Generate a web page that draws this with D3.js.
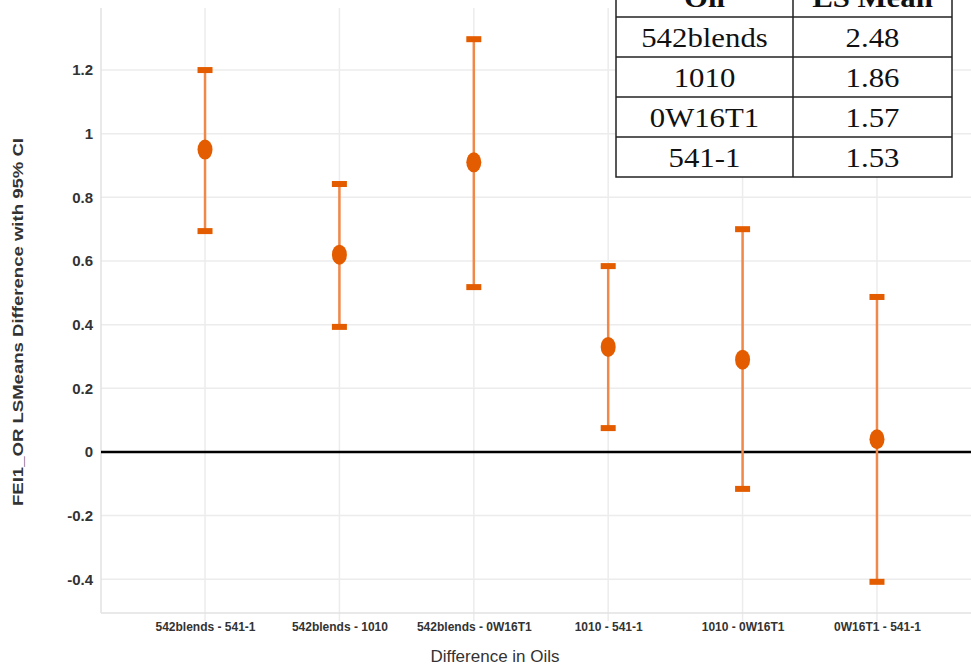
<!DOCTYPE html>
<html>
<head>
<meta charset="utf-8">
<script src="https://cdn.jsdelivr.net/npm/d3@7"></script>
<style>
  body { margin: 0; background: #fff; }
  svg { display: block; }
</style>
</head>
<body>
<script>
// comparisons and their LS mean differences with 95% CI
var pairs = ["542blends - 541-1", "542blends - 1010", "542blends - 0W16T1", "1010 - 541-1", "1010 - 0W16T1", "0W16T1 - 541-1"];
var diffs = [0.95, 0.62, 0.91, 0.33, 0.29, 0.04];
var lower = [0.694, 0.393, 0.518, 0.075, -0.116, -0.408];
var upper = [1.20, 0.842, 1.297, 0.584, 0.70, 0.487];
var yTicks = [-0.4, -0.2, 0, 0.2, 0.4, 0.6, 0.8, 1, 1.2];

// inset table
var tableOils = ["542blends", "1010", "0W16T1", "541-1"];
var tableMeans = ["2.48", "1.86", "1.57", "1.53"];

var width = 971, height = 668;
var margin = {left: 101, top: 8, bottom: 55};

var svg = d3.select("body").append("svg")
  .attr("width", width)
  .attr("height", height);

var x = d3.scalePoint()
  .domain(pairs)
  .range([margin.left, 981])
  .padding(0.774);

var y = d3.scaleLinear()
  .domain([-0.506, 1.395])
  .range([height - margin.bottom, margin.top]);

var orange = "#e35d00";
var lineOrange = "#f0884a";
var sans = "'Liberation Sans', Arial, sans-serif";

// grid
var grid = svg.append("g");
grid.selectAll(".hg").data(yTicks).enter().append("line")
  .attr("x1", margin.left).attr("x2", width)
  .attr("y1", function(d) { return y(d); })
  .attr("y2", function(d) { return y(d); })
  .style("stroke", "#ececec").style("stroke-width", 1.5);
grid.selectAll(".vg").data(pairs).enter().append("line")
  .attr("y1", margin.top).attr("y2", height - margin.bottom + 8)
  .attr("x1", function(d) { return x(d); })
  .attr("x2", function(d) { return x(d); })
  .style("stroke", "#ececec").style("stroke-width", 1.5);

// plot frame (left and bottom)
svg.append("line")
  .attr("x1", margin.left).attr("x2", margin.left)
  .attr("y1", margin.top).attr("y2", height - margin.bottom)
  .style("stroke", "#e2e2e2").style("stroke-width", 1.5);
svg.append("line")
  .attr("x1", margin.left).attr("x2", width)
  .attr("y1", height - margin.bottom).attr("y2", height - margin.bottom)
  .style("stroke", "#e2e2e2").style("stroke-width", 1.5);

// zero reference line
svg.append("line")
  .attr("x1", margin.left).attr("x2", width)
  .attr("y1", y(0)).attr("y2", y(0))
  .style("stroke", "#000").style("stroke-width", 2.5);

// y axis
var yAxis = svg.append("g")
  .attr("transform", "translate(" + margin.left + ",0)")
  .call(d3.axisLeft(y).tickValues(yTicks).tickSize(0).tickPadding(8)
    .tickFormat(function(d) { return String(Math.round(d * 10) / 10); }));
yAxis.select(".domain").remove();
yAxis.selectAll("text")
  .style("font-family", sans)
  .style("font-weight", "bold")
  .style("font-size", "15px")
  .style("fill", "#333");

// x axis
var xAxis = svg.append("g")
  .attr("transform", "translate(0," + (height - margin.bottom) + ")")
  .call(d3.axisBottom(x).tickSize(0).tickPadding(9));
xAxis.select(".domain").remove();
xAxis.selectAll("text")
  .style("font-family", sans)
  .style("font-weight", "bold")
  .style("font-size", "12px")
  .style("fill", "#333");

// axis titles
svg.append("text")
  .attr("x", 495).attr("y", 662)
  .attr("text-anchor", "middle")
  .style("font-family", sans)
  .style("font-size", "17px")
  .style("fill", "#333")
  .text("Difference in Oils");

svg.append("text")
  .attr("transform", "translate(23,322) rotate(-90)")
  .attr("text-anchor", "middle")
  .attr("textLength", 368)
  .attr("lengthAdjust", "spacingAndGlyphs")
  .style("font-family", sans)
  .style("font-weight", "bold")
  .style("font-size", "14px")
  .style("fill", "#333")
  .text("FEI1_OR LSMeans Difference with 95% CI");

// error bars
var bars = svg.append("g").selectAll("g").data(pairs).enter().append("g");
bars.append("line")
  .attr("x1", function(d) { return x(d); })
  .attr("x2", function(d) { return x(d); })
  .attr("y1", function(d, i) { return y(upper[i]); })
  .attr("y2", function(d, i) { return y(lower[i]); })
  .style("stroke", lineOrange).style("stroke-width", 2.5);
bars.append("rect")
  .attr("x", function(d) { return x(d) - 7.5; })
  .attr("y", function(d, i) { return y(upper[i]) - 3; })
  .attr("width", 15).attr("height", 6)
  .style("fill", orange);
bars.append("rect")
  .attr("x", function(d) { return x(d) - 7.5; })
  .attr("y", function(d, i) { return y(lower[i]) - 3; })
  .attr("width", 15).attr("height", 6)
  .style("fill", orange);
bars.append("ellipse")
  .attr("cx", function(d) { return x(d); })
  .attr("cy", function(d, i) { return y(diffs[i]); })
  .attr("rx", 7.5).attr("ry", 10)
  .style("fill", orange);

// inset table
var tx = [616, 793, 952];
var rowH = 40;
var rowTop = 17;
var table = svg.append("g");
table.append("rect")
  .attr("x", tx[0]).attr("y", -25)
  .attr("width", tx[2] - tx[0]).attr("height", rowTop + 25 + rowH * tableOils.length)
  .style("fill", "#fff").style("stroke", "#222").style("stroke-width", 1.5);
table.append("line")
  .attr("x1", tx[1]).attr("x2", tx[1])
  .attr("y1", -25).attr("y2", rowTop + rowH * tableOils.length)
  .style("stroke", "#222").style("stroke-width", 1.5);
table.selectAll(".rl").data(d3.range(tableOils.length)).enter().append("line")
  .attr("x1", tx[0]).attr("x2", tx[2])
  .attr("y1", function(i) { return rowTop + i * rowH; })
  .attr("y2", function(i) { return rowTop + i * rowH; })
  .style("stroke", "#222").style("stroke-width", 1.5);

var serif = "'Liberation Serif', 'Times New Roman', serif";
function cell(cx, cy, txt, bold) {
  table.append("text")
    .attr("transform", "translate(" + cx + "," + cy + ") scale(1.1,1)")
    .attr("text-anchor", "middle")
    .style("font-family", serif)
    .style("font-weight", bold ? "bold" : "normal")
    .style("font-size", "28px")
    .style("fill", "#111")
    .text(txt);
}
cell((tx[0] + tx[1]) / 2, 7, "Oil", true);
cell((tx[1] + tx[2]) / 2, 7, "LS Mean", true);
tableOils.forEach(function(d, i) { cell((tx[0] + tx[1]) / 2, rowTop + i * rowH + 30, d, false); });
tableMeans.forEach(function(d, i) { cell((tx[1] + tx[2]) / 2, rowTop + i * rowH + 30, d, false); });
</script>
</body>
</html>
